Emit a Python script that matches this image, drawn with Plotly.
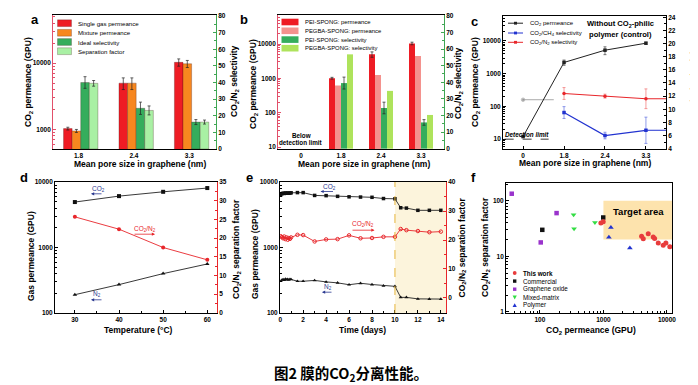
import math
import plotly.graph_objects as go

W, H = 698, 385
FONT = "Liberation Sans, Arial, sans-serif"
CJK = "Noto Sans CJK SC"

# ---------------- data ----------------
# (a)
a_pores = ["1.8", "2.4", "3.3"]
a_single = [1030, 5000, 10300]
a_single_err = [50, 1000, 1300]
a_mixture = [950, 5000, 9800]
a_mixture_err = [50, 1000, 1200]
a_ideal = [40.0, 24.5, 16.2]
a_ideal_err = [3.5, 3.7, 1.5]
a_sepfac = [39.5, 23.2, 16.2]
a_sepfac_err = [1.7, 2.7, 1.2]
a_names = ["Single gas permeance", "Mixture permeance", "Ideal selectivity", "Separation factor"]

# (b)
b_pores = ["0", "1.8", "2.4", "3.3"]
b_pei_perm = [None, 1010, 5000, 10400]
b_pei_perm_err = [0, 60, 900, 900]
b_pegba_perm = [None, 620, 1260, 4450]
b_pei_sel = [None, 39.5, 24.5, 15.8]
b_pei_sel_err = [0, 3.6, 3.5, 1.7]
b_pegba_sel = [None, 56.8, 34.8, 20.3]
b_names = ["PEI-SPONG: permeance", "PEGBA-SPONG: permeance",
           "PEI-SPONG: selectivity", "PEGBA-SPONG: selectivity"]

# (c)
c_pores = ["0", "1.8", "2.4", "3.3"]
c_perm = [12, 2200, 5200, 8500]
c_perm_err = [0, 400, 1400, 600]
c_ch4 = [None, 9.5, 6.0, 6.8]
c_ch4_err = [0, 0.9, 0.5, 2.0]
c_n2 = [None, 12.4, 12.0, 11.6]
c_n2_err = [0, 0.9, 0.3, 1.5]
c_detection_limit = 10
c_left_arrow_level = 160
c_names = ["CO<sub>2</sub> permeance", "CO<sub>2</sub>/CH<sub>4</sub> selectivity",
           "CO<sub>2</sub>/N<sub>2</sub> selectivity"]

# (d)
d_temp = [30, 40, 50, 60]
d_co2 = [4950, 6100, 7100, 8100]
d_n2 = [190, 271, 399, 560]
d_sep = [25.7, 22.4, 17.5, 14.2]

# (e)
e_days = [0.05, 0.15, 0.25, 0.35, 0.45, 0.55, 0.65, 0.75, 0.85, 0.95,
          1.5, 2, 3, 4, 5, 6, 7, 8, 9, 10, 10.5, 11, 12, 13, 14]
e_co2 = [6400, 6650, 6750, 6700, 6800, 6750, 6800, 6750, 6800, 6850,
         6900, 6900, 6250, 6200, 6050, 5950, 5900, 5850, 5600, 5550,
         4050, 4000, 3700, 3700, 3700]
e_n2 = [305, 320, 325, 318, 330, 322, 326, 320, 328, 325,
        305, 305, 314, 298, 288, 270, 284, 272, 260, 255,
        173, 173, 164, 163, 163]
e_sep = [21.3, 21.0, 20.6, 21.2, 20.3, 20.9, 20.1, 20.7, 20.4, 20.9,
         21.8, 21.7, 19.5, 20.2, 20.3, 21.6, 20.6, 20.7, 21.1, 21.1,
         23.8, 23.4, 23.1, 22.7, 22.9]
e_switch_day = 10

# (f)
f_this_perm = [912, 993, 3990, 4240, 5080, 6090, 6400, 7310, 8750, 9630, 11100]
f_this_sel = [39.7, 42, 22.9, 20.7, 25.5, 22.2, 21, 17.4, 15.8, 17.4, 14.9]
f_comm_perm = [109, 993]
f_comm_sel = [30, 50]
f_go_perm = [36, 103, 183]
f_go_sel = [134, 17.8, 60]
f_mm_perm = [339, 345, 735]
f_mm_sel = [56, 31.4, 40.8]
f_poly_perm = [1312, 1220, 2610]
f_poly_sel = [33, 22, 14.1]
f_target_perm = [1000, 12000]
f_target_sel = [20, 100]
f_names = ["This work", "Commercial", "Graphene oxide", "Mixed-matrix", "Polymer"]

caption = "图2 膜的CO<sub>2</sub>分离性能。"

# ---------------- styles ----------------
RED = "#ee1c24"
ORANGE = "#f7871f"
DGREEN = "#35ad5c"
LGREEN = "#a9f0a4"
PINK = "#f4928e"
YGREEN = "#aee35c"
SPINE_RED = "#e2506a"
SPINE_GREEN = "#3fa653"
NAVY = "#2b3990"
LRED = "#e8262b"
BLUE = "#2233d0"
PURPLE = "#9a33cc"
MGREEN = "#33dd44"
EDGE = dict(color="rgba(60,20,20,0.55)", width=0.5)

TICKFONT = dict(family=FONT, size=6.5, color="black", weight="bold")
LOG_MINOR = [m * 10 ** k for k in range(0, 5) for m in range(2, 10)]


def dom_x(lo, hi):
    return [lo / W, hi / W]


def dom_y(top, bot):
    return [1 - bot / H, 1 - top / H]


def axis(domain, color="black", **kw):
    d = dict(domain=domain, showline=True, linecolor=color, linewidth=0.9,
             ticks="inside", ticklen=3, tickwidth=0.8, tickcolor=color,
             showgrid=False, zeroline=False, tickfont=TICKFONT,
             automargin=False, fixedrange=True)
    d.update(kw)
    return d


def log_minor(color="black"):
    return dict(tickmode="array", tickvals=LOG_MINOR, ticks="inside",
                ticklen=1.8, tickwidth=0.6, tickcolor=color)


def lin_minor(step, color="black"):
    return dict(dtick=step, ticks="inside", ticklen=1.8, tickwidth=0.6, tickcolor=color)


fig = go.Figure()
ERR = dict(type="data", color="#222", thickness=0.7, width=1.5)

# ---------- panel a ----------
xa = list(range(len(a_pores)))
bw = 0.155
for vals, err, col, off, yax in [
    (a_single, a_single_err, RED, -0.27, "y"),
    (a_mixture, a_mixture_err, ORANGE, -0.115, "y"),
    (a_ideal, a_ideal_err, DGREEN, 0.04, "y2"),
    (a_sepfac, a_sepfac_err, LGREEN, 0.195, "y2"),
]:
    fig.add_trace(go.Bar(x=xa, y=vals, width=bw, offset=off,
                         marker=dict(color=col, line=EDGE),
                         error_y=dict(ERR, array=err),
                         xaxis="x", yaxis=yax, showlegend=False))

# ---------- panel b ----------
xb = list(range(len(b_pores)))
bw = 0.15
for vals, err, col, off, yax in [
    (b_pei_perm, b_pei_perm_err, RED, -0.3, "y3"),
    (b_pegba_perm, None, PINK, -0.15, "y3"),
    (b_pei_sel, b_pei_sel_err, DGREEN, 0.0, "y4"),
    (b_pegba_sel, None, YGREEN, 0.15, "y4"),
]:
    kw = {}
    if err is not None:
        kw["error_y"] = dict(ERR, array=err)
    fig.add_trace(go.Bar(x=xb, y=vals, width=bw, offset=off,
                         marker=dict(color=col, line=dict(width=0)),
                         xaxis="x2", yaxis=yax, showlegend=False, **kw))

# ---------- panel c ----------
xc = list(range(len(c_pores)))
c_xmax = 3.49
fig.add_trace(go.Scatter(x=[xc[0], 0.75], y=[c_left_arrow_level] * 2, mode="lines+markers",
                         line=dict(color="#aaaaaa", width=1),
                         marker=dict(size=[3.5, 0], color="#888888"),
                         xaxis="x3", yaxis="y5", showlegend=False))
fig.add_trace(go.Scatter(x=xc, y=c_perm, mode="lines+markers",
                         line=dict(color="#222222", width=1),
                         marker=dict(symbol="square", size=3.5, color="#222222"),
                         error_y=dict(type="data", array=c_perm_err, color="#444", thickness=0.7, width=1.5),
                         xaxis="x3", yaxis="y5", showlegend=False))
fig.add_trace(go.Scatter(x=[xc[-1], c_xmax], y=[c_n2[-1]] * 2, mode="lines",
                         line=dict(color=LRED, width=1), cliponaxis=False,
                         xaxis="x3", yaxis="y6", showlegend=False))
fig.add_trace(go.Scatter(x=[xc[-1], c_xmax], y=[c_ch4[-1]] * 2, mode="lines",
                         line=dict(color=BLUE, width=1), cliponaxis=False,
                         xaxis="x3", yaxis="y6", showlegend=False))
fig.add_trace(go.Scatter(x=xc, y=c_n2, mode="lines+markers",
                         line=dict(color=LRED, width=1.2),
                         marker=dict(symbol="circle", size=3.5, color=LRED),
                         error_y=dict(type="data", array=c_n2_err, color="#f07070", thickness=0.7, width=1.5),
                         xaxis="x3", yaxis="y6", showlegend=False))
fig.add_trace(go.Scatter(x=xc, y=c_ch4, mode="lines+markers",
                         line=dict(color=BLUE, width=1.2),
                         marker=dict(symbol="square", size=3.5, color=BLUE),
                         error_y=dict(type="data", array=c_ch4_err, color="#6070e0", thickness=0.7, width=1.5),
                         xaxis="x3", yaxis="y6", showlegend=False))

# ---------- panel d ----------
fig.add_trace(go.Scatter(x=d_temp, y=d_co2, mode="lines+markers",
                         line=dict(color="#222", width=0.9),
                         marker=dict(symbol="square", size=4, color="#111"),
                         xaxis="x4", yaxis="y7", showlegend=False))
fig.add_trace(go.Scatter(x=d_temp, y=d_n2, mode="lines+markers",
                         line=dict(color="#222", width=0.9),
                         marker=dict(symbol="triangle-up", size=4, color="#111"),
                         xaxis="x4", yaxis="y7", showlegend=False))
fig.add_trace(go.Scatter(x=d_temp, y=d_sep, mode="lines+markers",
                         line=dict(color=LRED, width=0.9),
                         marker=dict(symbol="circle", size=4, color=LRED),
                         xaxis="x4", yaxis="y8", showlegend=False))

# ---------- panel e ----------
fig.add_trace(go.Scatter(x=e_days, y=e_co2, mode="lines+markers",
                         line=dict(color="#222", width=0.9),
                         marker=dict(symbol="square", size=3.5, color="#111"),
                         xaxis="x5", yaxis="y9", showlegend=False))
fig.add_trace(go.Scatter(x=e_days, y=e_n2, mode="lines+markers",
                         line=dict(color="#222", width=0.9),
                         marker=dict(symbol="triangle-up", size=3.5, color="#111"),
                         xaxis="x5", yaxis="y9", showlegend=False))
fig.add_trace(go.Scatter(x=e_days, y=e_sep, mode="lines+markers",
                         line=dict(color=LRED, width=0.9),
                         marker=dict(symbol="circle-open", size=3.5, color=LRED, line=dict(width=1)),
                         xaxis="x5", yaxis="y10", showlegend=False))

# ---------- panel f ----------
for xs, ys, sym, col, sz in [
    (f_go_perm, f_go_sel, "square", PURPLE, 4.5),
    (f_mm_perm, f_mm_sel, "triangle-down", MGREEN, 5),
    (f_comm_perm, f_comm_sel, "square", "#111", 4.5),
    (f_poly_perm, f_poly_sel, "triangle-up", BLUE, 5),
    (f_this_perm, f_this_sel, "circle", "#e83c3c", 5),
]:
    fig.add_trace(go.Scatter(x=xs, y=ys, mode="markers",
                             marker=dict(symbol=sym, size=sz, color=col),
                             xaxis="x6", yaxis="y11", showlegend=False))

# ---------------- layout ----------------
DA_X, DA_Y = dom_x(45, 208), dom_y(7, 141)
DB_X, DB_Y = dom_x(270, 436), dom_y(7, 141)
DC_X, DC_Y = dom_x(495, 658), dom_y(8, 141)
DD_X, DD_Y = dom_x(47, 209), dom_y(174, 305)
DE_X, DE_Y = dom_x(272, 438), dom_y(174, 305)
DF_X, DF_Y = dom_x(498, 664), dom_y(175, 305)

dec_text = lambda vals: [str(v) for v in vals]

layout = dict(
    width=W, height=H, margin=dict(l=0, r=0, t=0, b=0),
    paper_bgcolor="white", plot_bgcolor="white", showlegend=False,
    font=dict(family=FONT, size=7, color="black"),
    xaxis=axis(DA_X, anchor="y", range=[-0.46, 2.48], tickvals=xa, ticktext=a_pores, mirror=True, ticks=""),
    yaxis=axis(DA_Y, SPINE_RED, anchor="x", type="log", range=[2.705, 4.727],
               tickvals=[1000, 10000], ticktext=dec_text([1000, 10000]), minor=log_minor(SPINE_RED)),
    yaxis2=axis(DA_Y, SPINE_GREEN, anchor="x", overlaying="y", side="right", range=[0, 80.6],
                tick0=0, dtick=10, minor=lin_minor(5, SPINE_GREEN)),
    xaxis2=axis(DB_X, anchor="y3", range=[-0.575, 3.575], tickvals=xb, ticktext=b_pores, mirror=True, ticks=""),
    yaxis3=axis(DB_Y, SPINE_RED, anchor="x2", type="log", range=[0.942, 4.845],
                tickvals=[10, 100, 1000, 10000], ticktext=dec_text([10, 100, 1000, 10000]),
                minor=log_minor(SPINE_RED)),
    yaxis4=axis(DB_Y, SPINE_GREEN, anchor="x2", overlaying="y3", side="right", range=[-0.2, 80.5],
                tick0=0, dtick=10, minor=lin_minor(5, SPINE_GREEN)),
    xaxis3=axis(DC_X, anchor="y5", range=[-0.49, c_xmax], tickvals=xc, ticktext=c_pores, mirror=True),
    yaxis5=axis(DC_Y, anchor="x3", type="log", range=[0.7, 4.76],
                tickvals=[10, 100, 1000, 10000], ticktext=dec_text([10, 100, 1000, 10000]),
                minor=log_minor()),
    yaxis6=axis(DC_Y, anchor="x3", overlaying="y5", side="right", range=[3.95, 24.2],
                tick0=4, dtick=2, minor=lin_minor(1)),
    xaxis4=axis(DD_X, anchor="y7", range=[25.5, 62.2], tick0=30, dtick=10, mirror=True, minor=lin_minor(5)),
    yaxis7=axis(DD_Y, anchor="x4", type="log", range=[1.999, 4.001],
                tickvals=[100, 1000, 10000], ticktext=dec_text([100, 1000, 10000]), minor=log_minor()),
    yaxis8=axis(DD_Y, LRED, anchor="x4", overlaying="y7", side="right", range=[-0.03, 35.03],
                tick0=0, dtick=5, minor=lin_minor(2.5, LRED)),
    xaxis5=axis(DE_X, anchor="y9", range=[-0.02, 14.45], tick0=0, dtick=2, mirror=True, minor=lin_minor(1)),
    yaxis9=axis(DE_Y, anchor="x5", type="log", range=[1.999, 4.001],
                tickvals=[100, 1000, 10000], ticktext=dec_text([100, 1000, 10000]), minor=log_minor()),
    yaxis10=axis(DE_Y, LRED, anchor="x5", overlaying="y9", side="right", range=[-5.2, 40.03],
                 tick0=0, dtick=10, minor=lin_minor(5, LRED)),
    xaxis6=axis(DF_X, anchor="y11", type="log", range=[1.466, 4.08], mirror=True,
                tickvals=[100, 1000, 10000], ticktext=dec_text([100, 1000, 10000]), minor=log_minor()),
    yaxis11=axis(DF_Y, anchor="x6", type="log", range=[-0.02, 2.32], mirror=True,
                 tickvals=[1, 10, 100], ticktext=dec_text([1, 10, 100]), minor=log_minor()),
)

shapes = []
ann = []


def text(x, y, s, size=6.5, color="black", bold=False, angle=0, xanchor="center",
         yanchor="middle", family=FONT, italic=False):
    ann.append(dict(x=x / W, y=1 - y / H, xref="paper", yref="paper", text=s, showarrow=False,
                    font=dict(family=family, size=size, color=color,
                              weight="bold" if bold else "normal",
                              style="italic" if italic else "normal"),
                    textangle=angle, xanchor=xanchor, yanchor=yanchor))


def arrow(x_head, x_tail, y, color):
    ann.append(dict(x=x_head / W, y=1 - y / H, xref="paper", yref="paper", text="",
                    showarrow=True, ax=x_tail - x_head, ay=0, arrowhead=2, arrowsize=0.8,
                    arrowwidth=0.8, arrowcolor=color))


def rect_px(x0, y0, x1, y1, color, line=None):
    shapes.append(dict(type="rect", xref="paper", yref="paper", x0=x0 / W, x1=x1 / W,
                       y0=1 - y1 / H, y1=1 - y0 / H, fillcolor=color,
                       line=dict(width=0.5 if line else 0, color=line or color)))


def circle_px(cx, cy, r, color):
    shapes.append(dict(type="circle", xref="paper", yref="paper", x0=(cx - r) / W, x1=(cx + r) / W,
                       y0=1 - (cy + r) / H, y1=1 - (cy - r) / H, fillcolor=color, line=dict(width=0)))


def tri_px(cx, cy, r, color, down=False):
    s = -1 if down else 1
    pts = [(cx, cy - s * r), (cx - r, cy + s * r * 0.8), (cx + r, cy + s * r * 0.8)]
    path = "M " + " L ".join(f"{px / W},{1 - py / H}" for px, py in pts) + " Z"
    shapes.append(dict(type="path", xref="paper", yref="paper", path=path, fillcolor=color,
                       line=dict(width=0)))


def line_px(x0, x1, y, color, width=1):
    shapes.append(dict(type="line", xref="paper", yref="paper", x0=x0 / W, x1=x1 / W,
                       y0=1 - y / H, y1=1 - y / H, line=dict(color=color, width=width)))


# panel letters
for letter, x, y in [("a", 27, 11), ("b", 236, 11), ("c", 466, 13), ("d", 16, 169), ("e", 242, 169), ("f", 465, 170)]:
    text(x, y, letter, size=13, bold=True)

TS = 8.5
# axis titles panel a
text(20, 74, "CO<sub>2</sub> permeance (GPU)", TS, bold=True, angle=-90)
text(227, 73, "CO<sub>2</sub>/N<sub>2</sub> selectivity", TS, bold=True, angle=-90)
text(132, 155.5, "Mean pore size in graphene (nm)", TS, bold=True)
# panel b
text(245, 76, "CO<sub>2</sub> permeance (GPU)", TS, bold=True, angle=-90)
text(451, 75, "CO<sub>2</sub>/N<sub>2</sub> selectivity", TS, bold=True, angle=-90)
text(356, 155.5, "Mean pore size in graphene (nm)", TS, bold=True)
# panel c
text(467, 74, "CO<sub>2</sub> permeance (GPU)", TS, bold=True, angle=-90)
text(686, 68, "Ideal selectivity", TS, bold=True, angle=-90)
text(577, 155, "Mean pore size in graphene (nm)", TS, bold=True)
# panel d
text(23, 248, "Gas permeance (GPU)", TS, bold=True, angle=-90)
text(228, 241, "CO<sub>2</sub>/N<sub>2</sub> separation factor", TS, bold=True, angle=-90)
text(130, 322, "Temperature (°C)", TS, bold=True)
# panel e
text(247, 246, "Gas permeance (GPU)", TS, bold=True, angle=-90)
text(453.5, 240, "CO<sub>2</sub>/N<sub>2</sub> separation factor", TS, bold=True, angle=-90)
text(354, 322, "Time (days)", TS, bold=True)
# panel f
text(477, 239, "CO<sub>2</sub>/N<sub>2</sub> separation factor", TS, bold=True, angle=-90)
text(583, 322, "CO<sub>2</sub> permeance (GPU)", TS, bold=True)

# legend a
for i, (name, col) in enumerate(zip(a_names, [RED, ORANGE, DGREEN, LGREEN])):
    yy = [15.2, 24.8, 34.0, 43.2][i]
    rect_px(49.5, yy - 3.4, 63.5, yy + 3.4, col, line="rgba(60,20,20,0.5)")
    text(68, yy, name, 6.1, xanchor="left")

# legend b
for i, (name, col) in enumerate(zip(b_names, [RED, PINK, DGREEN, YGREEN])):
    yy = [14.0, 22.8, 31.6, 40.2][i]
    rect_px(273.5, yy - 3.3, 290.5, yy + 3.3, col)
    text(295, yy, name, 5.9, xanchor="left")
text(293, 127, "Below", 6.3, bold=True)
text(293, 134.5, "detection limit", 6.3, bold=True)

# legend c
for i, (name, col) in enumerate(zip(c_names, ["#222222", BLUE, LRED])):
    yy = [15.2, 25.0, 34.3][i]
    line_px(500, 515, yy, col, 1)
    rect_px(506, yy - 1.4, 509, yy + 1.4, col)
    text(520, yy, name, 6, xanchor="left")
text(612, 16.5, "Without CO<sub>2</sub>-philic", 7.6, bold=True)
text(612, 26.5, "polymer (control)", 7.6, bold=True)
text(519, 126, "Detection limit", 6.3, bold=True, italic=True)
# shapes on log axes take data values
shapes.append(dict(type="line", xref="x3 domain", yref="y5", x0=0.01, x1=0.28,
                   y0=c_detection_limit, y1=c_detection_limit,
                   line=dict(color="#222", width=0.9, dash="dash")))

# annotations d
text(90, 180.5, "CO<sub>2</sub>", 6.5, color=NAVY)
arrow(83, 95, 185.8, NAVY)
text(137, 220.5, "CO<sub>2</sub>/N<sub>2</sub>", 6.5, color=LRED)
arrow(147, 125, 226.2, LRED)
text(88.5, 286, "N<sub>2</sub>", 6.5, color=NAVY)
arrow(83, 95, 291.8, NAVY)

# annotations e
text(321.5, 179, "CO<sub>2</sub>", 6.5, color=NAVY)
arrow(312.5, 326.5, 183.5, NAVY)
text(355, 216, "CO<sub>2</sub>/N<sub>2</sub>", 6.5, color=LRED)
arrow(366.5, 343, 222.2, LRED)
text(319.5, 278.5, "N<sub>2</sub>", 6.5, color=NAVY)
arrow(314, 325, 284.2, NAVY)

# panel e shading
shapes.append(dict(type="rect", xref="x5", yref="y9 domain", x0=e_switch_day, x1=14.45, y0=0, y1=1,
                   fillcolor="#fcf4dc", line=dict(width=0), layer="below"))
shapes.append(dict(type="line", xref="x5", yref="y9 domain", x0=e_switch_day, x1=e_switch_day, y0=0, y1=1,
                   line=dict(color="#e6b53a", width=1, dash="dash")))

# panel f target area
shapes.append(dict(type="rect", xref="x6", yref="y11",
                   x0=f_target_perm[0], x1=f_target_perm[1],
                   y0=f_target_sel[0], y1=f_target_sel[1],
                   fillcolor="#fde3ad", line=dict(width=0), layer="below"))
text(630, 204, "Target area", 9.5, bold=True)

# legend f
leg_f = [("circle", "#e83c3c"), ("square", "#111"), ("square", PURPLE), ("tdown", MGREEN), ("tup", BLUE)]
for i, (name, (sym, col)) in enumerate(zip(f_names, leg_f)):
    yy = 265 + i * 8.1
    cx = 506.7
    if sym == "circle":
        circle_px(cx, yy, 1.9, col)
    elif sym == "square":
        rect_px(cx - 1.7, yy - 1.7, cx + 1.7, yy + 1.7, col)
    elif sym == "tdown":
        tri_px(cx, yy, 2.1, col, down=True)
    else:
        tri_px(cx, yy, 2.1, col)
    text(513, yy, name, 6.3, bold=(i == 0), xanchor="left")

# caption
text(343, 365, caption, 14.5, bold=True, family=CJK)

layout["shapes"] = shapes
layout["annotations"] = ann
fig.update_layout(**layout)
fig.write_html("out.html")
